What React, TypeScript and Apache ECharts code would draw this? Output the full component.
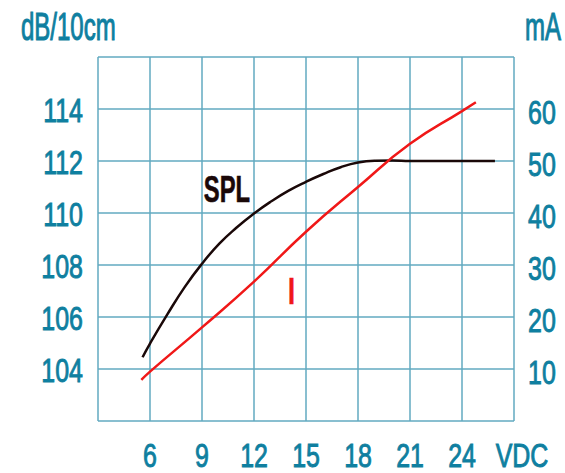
import React, { useEffect, useRef } from "react";
import * as echarts from "echarts";

const xTicks = [3, 6, 9, 12, 15, 18, 21, 24, 27];
const xTickLabels = ["", "6", "9", "12", "15", "18", "21", "24", "VDC"];
const leftTicks = [102, 104, 106, 108, 110, 112, 114, 116];
const leftTickLabels = ["", "104", "106", "108", "110", "112", "114", ""];
const rightTicks = [0, 10, 20, 30, 40, 50, 60, 70];
const rightTickLabels = ["", "10", "20", "30", "40", "50", "60", ""];

const splSeries: [number, number][] = [
  [5.57, 104.45], [6, 104.98], [7, 106.1], [8, 107.15], [9, 108.05], [10, 108.82],
  [11, 109.44], [12, 109.98], [13, 110.45], [14, 110.86], [15, 111.2], [16, 111.5],
  [17, 111.76], [18, 111.94], [19, 112.01], [20, 112.02], [21, 112.0], [24, 112.0], [25.9, 112.0],
];
const currentSeries: [number, number][] = [
  [5.5, 7.9], [6, 9.5], [9, 18.0], [12, 26.8], [15, 36.4], [18, 45.0],
  [21, 53.3], [24, 59.6], [24.8, 61.3],
];
const splLabelAt: [number, number] = [10.44, 110.93];
const iLabelAt: [number, number] = [14.17, 24.9];

const TEAL = "#0f7fa0";
const GRID = "#62aac1";
const FONT = "'Liberation Sans', Arial, sans-serif";

export default function App() {
  const ref = useRef<HTMLDivElement>(null);
  useEffect(() => {
    if (!ref.current) return;
    const chart = echarts.init(ref.current, undefined, { renderer: "svg" });
    chart.setOption({
      animation: false,
      backgroundColor: "#ffffff",
      grid: { left: 98, right: 51, top: 57, bottom: 52, containLabel: false },
      xAxis: {
        type: "value", min: 3, max: 27, interval: 3,
        axisLine: { show: false }, axisTick: { show: false }, axisLabel: { show: false },
        splitLine: { show: true, lineStyle: { color: GRID, width: 1.5 } },
      },
      yAxis: [
        {
          type: "value", min: 102, max: 116, interval: 2, position: "left",
          axisLine: { show: false }, axisTick: { show: false }, axisLabel: { show: false },
          splitLine: { show: true, lineStyle: { color: GRID, width: 1.5 } },
        },
        {
          type: "value", min: 0, max: 70, interval: 10, position: "right",
          axisLine: { show: false }, axisTick: { show: false }, axisLabel: { show: false },
          splitLine: { show: false },
        },
      ],
      series: [
        {
          name: "SPL", type: "line", yAxisIndex: 0, data: splSeries, smooth: 0.5,
          showSymbol: false, lineStyle: { color: "#1a0808", width: 2.5 },
        },
        {
          name: "I", type: "line", yAxisIndex: 1, data: currentSeries, smooth: 0.5,
          showSymbol: false, lineStyle: { color: "#f01818", width: 2.5 },
        },
      ],
    });

    const px = (v: number) => chart.convertToPixel({ xAxisIndex: 0 }, v) as number;
    const pyL = (v: number) => chart.convertToPixel({ yAxisIndex: 0 }, v) as number;
    const pyR = (v: number) => chart.convertToPixel({ yAxisIndex: 1 }, v) as number;
    const gridLeft = px(xTicks[0]);
    const gridRight = px(xTicks[xTicks.length - 1]);
    const gridBottom = pyL(leftTicks[0]);
    const gridTop = pyL(leftTicks[leftTicks.length - 1]);

    const tealStyle = { fill: TEAL, stroke: TEAL, lineWidth: 0.9, fontFamily: FONT };
    const lab = (text: string, x: number, y: number, align: string) => ({
      type: "text", x, y, scaleX: 0.78, scaleY: 1.06, silent: true,
      style: { text, ...tealStyle, fontSize: 32, align, verticalAlign: "middle" },
    });

    const elements: any[] = [];
    xTicks.forEach((t, i) => {
      if (!xTickLabels[i]) return;
      const isUnit = i === xTicks.length - 1;
      elements.push(lab(xTickLabels[i], px(t) + (isUnit ? 8 : 0), gridBottom + 34, "center"));
    });
    leftTicks.forEach((t, i) => {
      if (!leftTickLabels[i]) return;
      elements.push(lab(leftTickLabels[i], gridLeft - 15, pyL(t) + 1, "right"));
    });
    rightTicks.forEach((t, i) => {
      if (!rightTickLabels[i]) return;
      elements.push(lab(rightTickLabels[i], gridRight + 14, pyR(t) + 3, "left"));
    });
    elements.push({
      type: "text", x: 21, y: gridTop - 49, scaleX: 0.75, scaleY: 1.2, silent: true,
      style: { text: "dB/10cm", ...tealStyle, fontSize: 32, align: "left", verticalAlign: "top" },
    });
    elements.push({
      type: "text", x: 561, y: gridTop - 49, scaleX: 0.75, scaleY: 1.2, silent: true,
      style: { text: "mA", ...tealStyle, fontSize: 32, align: "right", verticalAlign: "top" },
    });
    elements.push({
      type: "text", x: px(splLabelAt[0]), y: pyL(splLabelAt[1]), scaleX: 0.66, scaleY: 1, silent: true,
      style: { text: "SPL", fill: "#1a0808", stroke: "#1a0808", lineWidth: 0.6, fontSize: 36, fontWeight: "bold", fontFamily: FONT, align: "center", verticalAlign: "middle" },
    });
    elements.push({
      type: "text", x: px(iLabelAt[0]), y: pyR(iLabelAt[1]), scaleX: 1, scaleY: 1, silent: true,
      style: { text: "I", fill: "#f01818", stroke: "#f01818", lineWidth: 0.6, fontSize: 36, fontFamily: FONT, align: "center", verticalAlign: "middle" },
    });
    chart.setOption({ graphic: elements });
    return () => chart.dispose();
  }, []);
  return <div ref={ref} style={{ position: "fixed", left: 0, top: 0, width: 565, height: 473 }} />;
}
